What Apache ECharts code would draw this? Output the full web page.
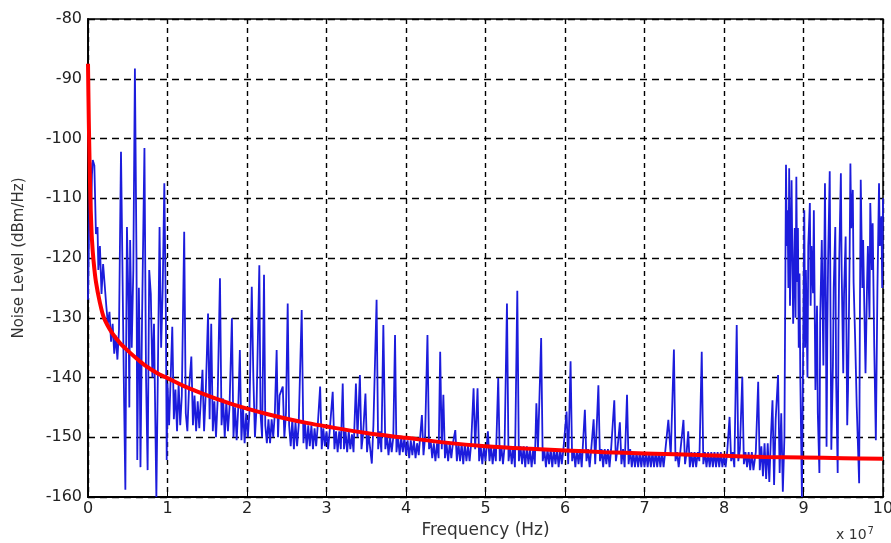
<!DOCTYPE html>
<html>
<head>
<meta charset="utf-8">
<script src="https://cdn.jsdelivr.net/npm/echarts@6/dist/echarts.min.js"></script>
<style>
  html, body { margin: 0; padding: 0; background: #fff; }
  #chart { width: 891px; height: 543px; }
</style>
</head>
<body>
<div id="chart"></div>
<script>
// frequency in units of 1e7 Hz, level in dBm/Hz
const xTicks = [0, 1, 2, 3, 4, 5, 6, 7, 8, 9, 10];
const yTicks = [-160, -150, -140, -130, -120, -110, -100, -90, -80];

// measured spectrum, split per 1e7 Hz decade
const spec0 = [[0.0,-127],[0.01,-118],[0.02,-108],[0.03,-104],[0.04,-112],[0.05,-106],[0.06,-103.6],[0.08,-104.5],[0.1,-116],[0.12,-114.8],[0.13,-122],[0.15,-118],[0.17,-126],[0.19,-121],[0.21,-120.9],[0.23,-128],[0.25,-131],[0.27,-129],[0.29,-134],[0.31,-131],[0.33,-136],[0.35,-133],[0.37,-137],[0.39,-132],[0.415,-102.2],[0.43,-118],[0.45,-140],[0.47,-158.8],[0.48,-135],[0.49,-114.8],[0.51,-128],[0.52,-145],[0.53,-117],[0.55,-135],[0.57,-122],[0.59,-88.3],[0.61,-120],[0.62,-153.8],[0.64,-125],[0.65,-136],[0.66,-155],[0.68,-130],[0.71,-101.6],[0.73,-140],[0.75,-155.5],[0.77,-122],[0.79,-126],[0.81,-140],[0.83,-131],[0.86,-160],[0.88,-138],[0.9,-114.8],[0.92,-135],[0.94,-125],[0.96,-107.5],[0.98,-130],[0.99,-153.8]];
const spec1 = [[1.0,-141],[1.02,-148],[1.04,-140],[1.06,-131.5],[1.08,-147],[1.1,-142],[1.12,-149],[1.14,-141],[1.16,-148],[1.18,-143],[1.21,-115.6],[1.23,-146],[1.25,-149],[1.27,-142],[1.3,-136.5],[1.32,-148],[1.34,-143],[1.36,-149],[1.38,-144],[1.4,-148.5],[1.44,-138.7],[1.46,-149],[1.48,-143],[1.51,-129.3],[1.53,-147],[1.55,-131],[1.57,-149],[1.59,-144],[1.61,-150],[1.63,-144],[1.66,-123.4],[1.68,-148],[1.7,-143.5],[1.72,-150],[1.74,-144],[1.76,-149],[1.78,-145],[1.81,-130.1],[1.83,-150],[1.85,-145],[1.87,-150.5],[1.89,-145],[1.91,-135.4],[1.93,-150.5],[1.95,-145],[1.97,-151],[1.99,-146]];
const spec2 = [[2.01,-150],[2.03,-146],[2.06,-124.8],[2.08,-140],[2.1,-150],[2.12,-145],[2.155,-121.2],[2.17,-146],[2.19,-150],[2.214,-122.8],[2.23,-148],[2.25,-151],[2.27,-147],[2.29,-151],[2.31,-147],[2.33,-150],[2.35,-146],[2.373,-135.4],[2.39,-150],[2.41,-143],[2.45,-141.5],[2.47,-150],[2.49,-146],[2.512,-127.6],[2.53,-148],[2.55,-151.5],[2.57,-147],[2.59,-152],[2.61,-147.5],[2.63,-151.5],[2.65,-148],[2.688,-128.7],[2.71,-151],[2.73,-147.5],[2.75,-152],[2.77,-148],[2.79,-151.5],[2.81,-148],[2.83,-152],[2.85,-148.5],[2.87,-151.5],[2.89,-148],[2.92,-141.5],[2.94,-152],[2.96,-148.5],[2.98,-151.5]];
const spec3 = [[3.0,-149],[3.02,-152],[3.04,-149],[3.078,-142.4],[3.1,-152],[3.12,-149],[3.14,-152.5],[3.16,-149],[3.18,-152],[3.204,-141],[3.22,-152],[3.24,-149],[3.26,-152.5],[3.28,-149],[3.3,-152],[3.32,-149.5],[3.34,-152.5],[3.37,-141],[3.39,-150],[3.42,-139.6],[3.44,-152],[3.46,-149.5],[3.49,-142.7],[3.51,-152.5],[3.53,-149.5],[3.57,-154.4],[3.59,-148],[3.63,-127],[3.65,-152],[3.67,-149],[3.69,-152.5],[3.715,-131.2],[3.74,-152],[3.76,-149.5],[3.78,-153],[3.8,-150],[3.82,-152.5],[3.84,-150],[3.862,-132.9],[3.88,-152.5],[3.9,-150],[3.92,-153],[3.94,-150],[3.96,-152.5],[3.98,-150]];
const spec4 = [[4.0,-153],[4.02,-150.5],[4.04,-153.5],[4.06,-150.5],[4.08,-153],[4.1,-150.5],[4.12,-153.5],[4.14,-151],[4.16,-153],[4.2,-146.3],[4.22,-153],[4.24,-150],[4.27,-132.9],[4.29,-152],[4.31,-150.5],[4.33,-153.5],[4.35,-151],[4.37,-154],[4.39,-151],[4.41,-153.5],[4.43,-135.7],[4.45,-152],[4.47,-142.9],[4.49,-153.5],[4.51,-151],[4.53,-154],[4.55,-151],[4.57,-153.5],[4.59,-151],[4.62,-148.8],[4.64,-154],[4.66,-151],[4.68,-154],[4.7,-151],[4.72,-154.5],[4.74,-151],[4.76,-154],[4.78,-151.5],[4.8,-154],[4.82,-151],[4.85,-141.8],[4.87,-152],[4.9,-141.8],[4.92,-154],[4.94,-151.5],[4.96,-154.5],[4.98,-151.5]];
const spec5 = [[5.0,-154],[5.03,-149],[5.05,-154],[5.07,-151.5],[5.09,-154.5],[5.11,-151.5],[5.13,-154],[5.16,-140.1],[5.18,-154],[5.2,-151.5],[5.22,-154.5],[5.24,-151.5],[5.27,-127.6],[5.29,-154],[5.31,-151.5],[5.33,-154.5],[5.35,-151.5],[5.37,-155],[5.4,-125.5],[5.42,-154],[5.44,-151.5],[5.46,-154.5],[5.48,-151.5],[5.5,-155],[5.52,-151.5],[5.54,-154.5],[5.56,-152],[5.58,-155],[5.6,-152],[5.62,-154.5],[5.64,-144.3],[5.66,-152],[5.7,-133.4],[5.72,-154],[5.74,-152],[5.76,-155],[5.78,-152],[5.8,-154.5],[5.82,-152],[5.84,-155],[5.86,-152],[5.88,-154.5],[5.9,-152],[5.92,-155],[5.94,-152],[5.96,-154.5],[5.98,-152]];
const spec6 = [[6.02,-145.7],[6.04,-154.5],[6.07,-137.3],[6.09,-154],[6.11,-152],[6.13,-155],[6.15,-152],[6.17,-154.5],[6.19,-152],[6.21,-155],[6.25,-145.4],[6.27,-154],[6.29,-152],[6.31,-155],[6.33,-152],[6.36,-147],[6.38,-154.5],[6.42,-141.3],[6.44,-154],[6.46,-152],[6.48,-155],[6.5,-152],[6.52,-154.5],[6.54,-152],[6.56,-155],[6.58,-152],[6.62,-143.8],[6.64,-154],[6.66,-152],[6.69,-147.5],[6.71,-154.5],[6.73,-152],[6.75,-155],[6.78,-142.9],[6.8,-154.5],[6.82,-152],[6.84,-155],[6.86,-152.5],[6.88,-155],[6.9,-152.5],[6.92,-155],[6.94,-152.5],[6.96,-155],[6.98,-152.5]];
const spec7 = [[7.0,-155],[7.02,-152.5],[7.04,-155],[7.06,-152.5],[7.08,-155],[7.1,-152.5],[7.12,-155],[7.14,-152.5],[7.16,-155],[7.18,-152.5],[7.2,-155],[7.22,-152.5],[7.24,-155],[7.26,-152.5],[7.3,-147.1],[7.33,-153],[7.37,-135.3],[7.39,-154],[7.41,-152.5],[7.43,-155],[7.45,-152.5],[7.49,-147.1],[7.51,-154.5],[7.53,-152.5],[7.55,-149],[7.57,-155],[7.59,-152.5],[7.61,-155],[7.63,-152.5],[7.65,-155],[7.67,-152.5],[7.69,-154],[7.72,-135.7],[7.74,-154.5],[7.76,-152.5],[7.78,-155],[7.8,-152.5],[7.82,-155],[7.84,-152.5],[7.86,-155],[7.88,-152.5],[7.9,-155],[7.92,-152.5],[7.94,-155],[7.96,-152.5],[7.98,-155]];
const spec8 = [[8.0,-153],[8.02,-155],[8.04,-152.5],[8.07,-146.6],[8.09,-154],[8.11,-152.5],[8.13,-155],[8.16,-131.2],[8.18,-154],[8.2,-152],[8.23,-139.9],[8.25,-154.5],[8.27,-152.5],[8.29,-155],[8.31,-152.5],[8.33,-155.5],[8.35,-152.5],[8.37,-155.5],[8.4,-152.5],[8.43,-140.7],[8.45,-155.5],[8.47,-151.5],[8.49,-156.5],[8.51,-151],[8.53,-157],[8.55,-151],[8.57,-157.5],[8.59,-150],[8.61,-143.8],[8.63,-158],[8.65,-147],[8.68,-139.6],[8.7,-156],[8.72,-146],[8.74,-159.1],[8.76,-150],[8.78,-104.4],[8.79,-118],[8.8,-112],[8.81,-125],[8.82,-105],[8.83,-128],[8.84,-118],[8.85,-107],[8.86,-120],[8.87,-131],[8.88,-122],[8.89,-115],[8.9,-130],[8.91,-106.4],[8.92,-124],[8.93,-115],[8.94,-135],[8.95,-122.6],[8.96,-140],[8.97,-150],[8.98,-160]];
const spec9 = [[9.0,-128.1],[9.01,-112],[9.02,-135],[9.03,-122],[9.05,-140],[9.06,-118],[9.08,-110.8],[9.09,-128],[9.1,-118],[9.12,-125.9],[9.13,-112],[9.15,-142.1],[9.17,-128],[9.18,-146],[9.2,-156],[9.21,-130],[9.23,-117],[9.25,-138],[9.27,-107.5],[9.28,-125],[9.29,-151.6],[9.3,-132],[9.31,-120],[9.33,-105.5],[9.34,-130],[9.35,-152.1],[9.37,-138],[9.38,-125],[9.4,-114.8],[9.41,-140],[9.43,-156],[9.44,-132],[9.45,-120],[9.47,-105.8],[9.48,-122],[9.5,-139.3],[9.51,-126],[9.53,-116.4],[9.55,-148],[9.56,-142.1],[9.58,-120],[9.59,-104.2],[9.6,-115],[9.62,-108.6],[9.63,-124],[9.65,-133.7],[9.67,-145],[9.7,-157.7],[9.71,-128],[9.72,-106.9],[9.74,-125],[9.75,-117],[9.77,-132],[9.78,-139.3],[9.8,-124],[9.81,-118],[9.83,-130],[9.84,-110.8],[9.86,-122],[9.87,-114.2],[9.89,-135],[9.91,-150.5],[9.93,-125],[9.95,-107.5],[9.96,-118],[9.98,-113],[9.99,-125],[10,-110]];

// fitted noise floor (red)
const fitFreq = [0, 0.01, 0.02, 0.03, 0.04, 0.05, 0.07, 0.1, 0.15, 0.2, 0.3, 0.4, 0.5, 0.6, 0.7, 0.8, 0.9, 1.0, 1.2, 1.4, 1.6, 1.8, 2.0, 2.25, 2.5, 2.75, 3.0, 3.5, 4.0, 4.5, 5.0, 5.5, 6.0, 6.5, 7.0, 7.5, 8.0, 8.5, 9.0, 9.5, 10];
const fitLevel = [-87.5, -97, -104, -110, -114, -117, -120.5, -124, -127.5, -130, -132.5, -134.2, -135.5, -136.7, -137.8, -138.7, -139.5, -140.1, -141.4, -142.5, -143.5, -144.4, -145.2, -146.1, -146.9, -147.6, -148.2, -149.3, -150.1, -150.9, -151.5, -151.9, -152.2, -152.5, -152.7, -152.9, -153.1, -153.3, -153.4, -153.5, -153.6];

const spectrum = [].concat(spec0, spec1, spec2, spec3, spec4, spec5, spec6, spec7, spec8, spec9);
const fit = fitFreq.map((f, i) => [f, fitLevel[i]]);

const chart = echarts.init(document.getElementById('chart'));
const font = 'DejaVu Sans, sans-serif';

chart.setOption({
  animation: false,
  backgroundColor: '#fff',
  grid: {
    left: 88, right: 8, top: 19, bottom: 46, outerBoundsMode: 'none',
    show: true, borderColor: '#000', borderWidth: 1.5, backgroundColor: 'transparent'
  },
  xAxis: {
    type: 'value', min: xTicks[0], max: xTicks[xTicks.length - 1], interval: 1,
    name: 'Frequency (Hz)', nameLocation: 'middle', nameGap: 24,
    nameTextStyle: { color: '#333', fontSize: 17, fontFamily: font },
    axisLine: { lineStyle: { color: '#000', width: 1.8 } },
    axisTick: { inside: true, length: 5, lineStyle: { color: '#000' } },
    axisLabel: { color: '#222', fontSize: 16, fontFamily: font, margin: 4 },
    splitLine: { show: true, lineStyle: { color: '#000', type: [5, 4], width: 1.4 } }
  },
  yAxis: {
    type: 'value', min: yTicks[0], max: yTicks[yTicks.length - 1], interval: 10,
    name: 'Noise Level (dBm/Hz)', nameLocation: 'middle', nameGap: 61, nameRotate: 90,
    nameTextStyle: { color: '#333', fontSize: 15, fontFamily: font },
    axisLine: { show: true, lineStyle: { color: '#000', width: 1.8 } },
    axisTick: { show: true, inside: true, length: 5, lineStyle: { color: '#000' } },
    axisLabel: { color: '#222', fontSize: 16, fontFamily: font, margin: 6 },
    splitLine: { show: true, lineStyle: { color: '#000', type: [7, 5], width: 1.4 } }
  },
  graphic: [{
    type: 'text', left: 836, top: 526,
    style: {
      text: 'x 10{s|7}',
      rich: { s: { fontSize: 10, fontFamily: font, verticalAlign: 'top', padding: [0, 0, 9, 1], fill: '#333' } },
      fontSize: 14, fontFamily: font, fill: '#333'
    }
  }],
  series: [
    {
      type: 'line', data: spectrum, showSymbol: false, symbol: 'none',
      lineStyle: { color: '#1c1cdc', width: 1.8 }, z: 2
    },
    {
      type: 'line', data: fit, showSymbol: false, symbol: 'none', smooth: 0.3,
      lineStyle: { color: '#ff0000', width: 4 }, z: 3
    }
  ]
});
</script>
</body>
</html>
